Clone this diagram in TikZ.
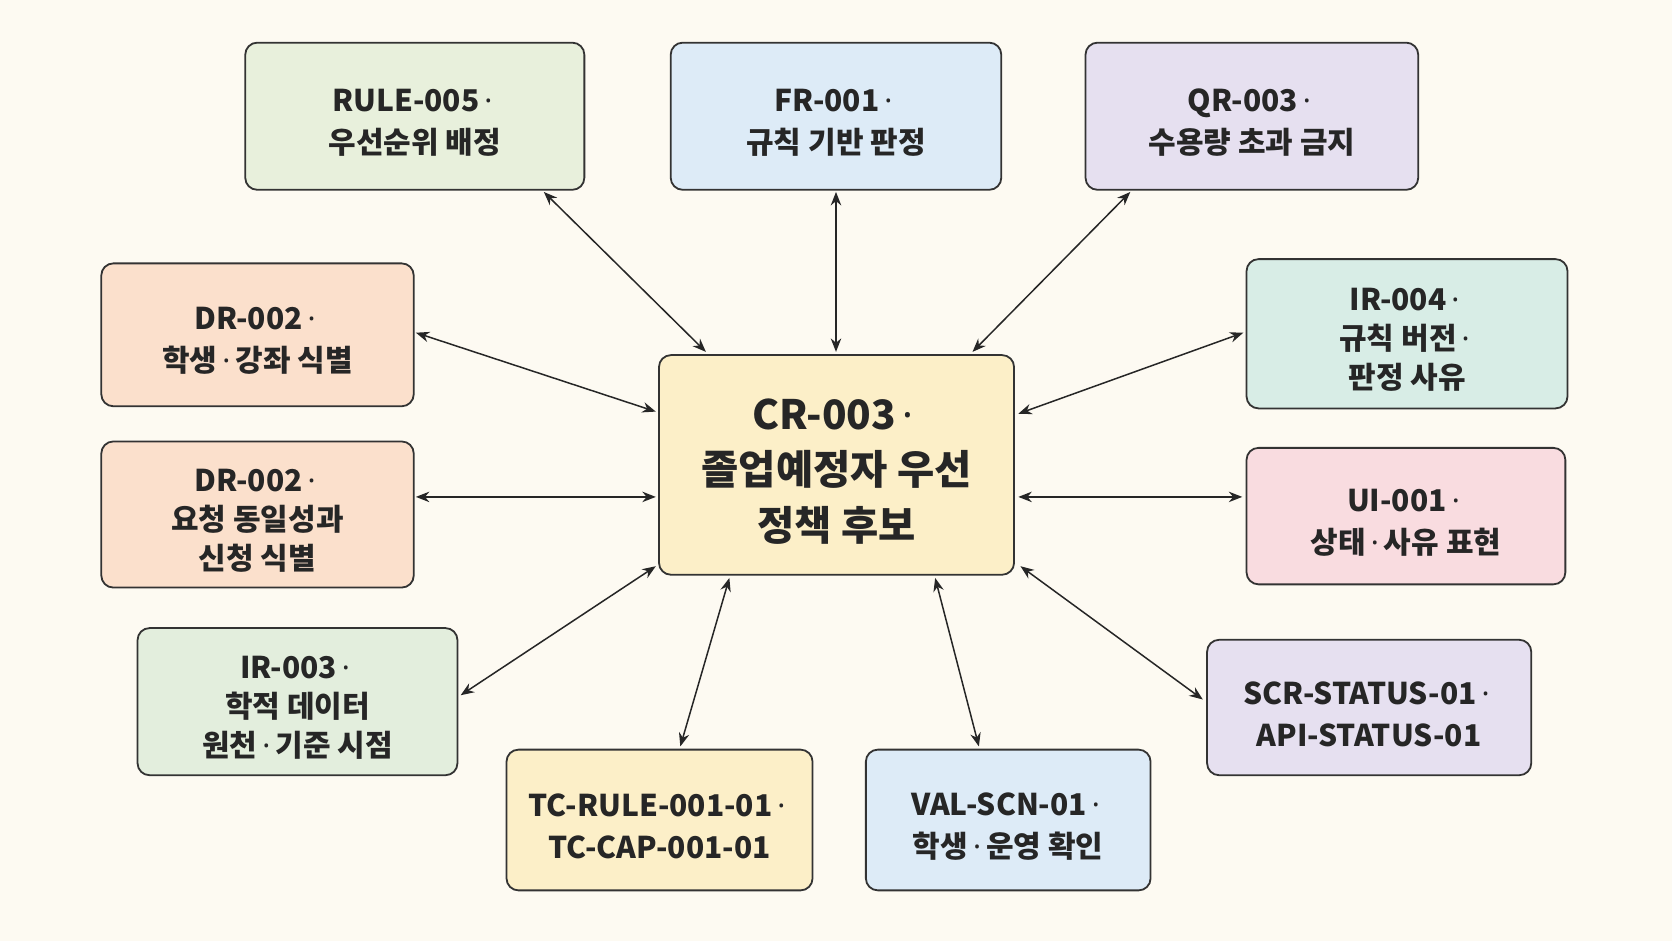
\documentclass[tikz,border=0pt]{standalone}
\usepackage{fontspec}
\setmainfont{Noto Sans CJK KR}
\newfontfamily\dotf{Noto Sans}
\newcommand\md{\,{\dotf\bfseries ·}\,}
\usetikzlibrary{fit,arrows.meta}
\definecolor{bg}{HTML}{FDFAF2}
\definecolor{cg}{HTML}{E8F0DC}
\definecolor{cb}{HTML}{DDEBF7}
\definecolor{cl}{HTML}{E6E0F0}
\definecolor{cp}{HTML}{FBE0CC}
\definecolor{ct}{HTML}{D8EDE6}
\definecolor{cy}{HTML}{FCEFC8}
\definecolor{ck}{HTML}{F9DCE0}
\definecolor{cg2}{HTML}{E3EEDD}
\begin{document}
\begin{tikzpicture}[x=0.025cm,y=-0.025cm,
  box/.style={draw=black!80,line width=1.2pt,rounded corners=8pt,inner sep=0pt},
  txt/.style={align=center,font=\fontsize{20}{28}\selectfont\bfseries,text=black!85,yshift=-0.15cm},
  txt3/.style={txt,font=\fontsize{20}{26}\selectfont\bfseries},
  big/.style={txt,font=\fontsize{27}{37}\selectfont\bfseries},
  arr/.style={{Stealth[length=9pt,width=7pt]}-{Stealth[length=9pt,width=7pt]},line width=1pt,black!85}]
\fill[bg] (0,0) rectangle (1568,882);
\useasboundingbox (0,0) rectangle (1568,882);
\node[box,fill=cg,fit={(230,40)(548,178)}] (rule) {};
\node[txt] (rulet) at (rule) {RULE-005\md\\우선순위 배정};
\node[box,fill=cb,fit={(629,40)(939,178)}] (fr) {};
\node[txt] (frt) at (fr) {FR-001\md\\규칙 기반 판정};
\node[box,fill=cl,fit={(1018,40)(1330,178)}] (qr) {};
\node[txt] (qrt) at (qr) {QR-003\md\\수용량 초과 금지};
\node[box,fill=cp,fit={(95,247)(388,381)}] (dr1) {};
\node[txt] (dr1t) at (dr1) {DR-002\md\\학생\md 강좌 식별};
\node[box,fill=ct,fit={(1169,243)(1470,383)}] (ir4) {};
\node[txt3] (ir4t) at (ir4) {IR-004\md\\규칙 버전\md\\판정 사유};
\node[box,fill=cy,fit={(618,333)(951,539)}] (c) {};
\node[big] (ct) at (c) {CR-003\md\\졸업예정자 우선\\정책 후보};
\node[box,fill=cp,fit={(95,414)(388,551)}] (dr2) {};
\node[txt3] (dr2t) at (dr2) {DR-002\md\\요청 동일성과\\신청 식별};
\node[box,fill=ck,fit={(1169,420)(1468,548)}] (ui) {};
\node[txt] (uit) at (ui) {UI-001\md\\상태\md 사유 표현};
\node[box,fill=cg2,fit={(129,589)(429,727)}] (ir3) {};
\node[txt3] (ir3t) at (ir3) {IR-003\md\\학적 데이터\\원천\md 기준 시점};
\node[box,fill=cl,fit={(1132,600)(1436,727)}] (scr) {};
\node[txt] (scrt) at (scr) {SCR-STATUS-01\md\\API-STATUS-01};
\node[box,fill=cy,fit={(475,703)(762,835)}] (tc) {};
\node[txt] (tct) at (tc) {TC-RULE-001-01\md\\TC-CAP-001-01};
\node[box,fill=cb,fit={(812,703)(1079,835)}] (val) {};
\node[txt] (valt) at (val) {VAL-SCN-01\md\\학생\md 운영 확인};
\coordinate (a1) at (510,180); \coordinate (b1) at (662,330);
\coordinate (a2) at (784,180); \coordinate (b2) at (784,330);
\coordinate (a3) at (1060,180); \coordinate (b3) at (912,330);
\coordinate (a4) at (390,312); \coordinate (b4) at (615,386);
\coordinate (a5) at (1166,312); \coordinate (b5) at (955,388);
\coordinate (a6) at (390,466); \coordinate (b6) at (615,466);
\coordinate (a7) at (1165,466); \coordinate (b7) at (955,466);
\coordinate (a8) at (432,652); \coordinate (b8) at (615,531);
\coordinate (a9) at (638,700); \coordinate (b9) at (684,542);
\coordinate (a10) at (918,700); \coordinate (b10) at (877,542);
\coordinate (a11) at (1128,656); \coordinate (b11) at (957,531);
\foreach \i in {1,...,11} \draw[arr] (a\i) -- (b\i);
\end{tikzpicture}
\end{document}
